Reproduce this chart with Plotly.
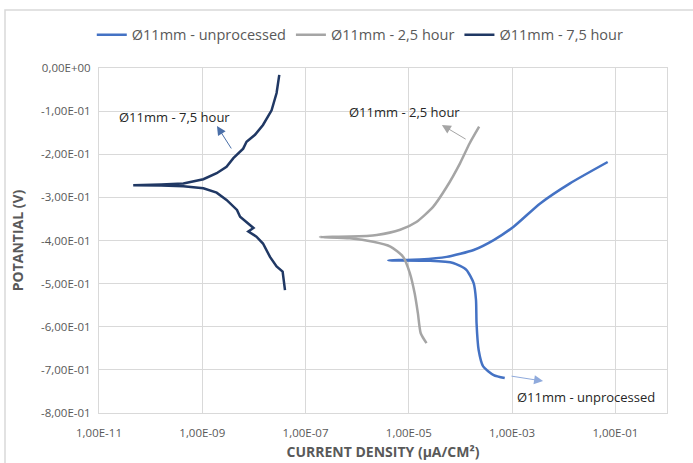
import plotly.graph_objects as go

# ---- data (current density in uA/cm2, potential in V) ----
h75_current = [3.1e-8, 2.75e-8, 2.2e-8, 1.5e-8, 1.05e-8, 7.2e-9, 6.2e-9, 4.0e-9, 2.95e-9, 1.9e-9,
               1.05e-9, 4.3e-10, 1.6e-10, 4.6e-11, 1.6e-10, 4.3e-10, 1.05e-9, 1.9e-9, 2.95e-9, 4.7e-9,
               5.4e-9, 7.8e-9, 9.8e-9, 7.8e-9, 1.12e-8, 1.5e-8, 2.05e-8, 2.75e-8, 3.6e-8, 4.0e-8]
h75_potential = [-0.016, -0.058, -0.098, -0.132, -0.155, -0.171, -0.187, -0.209, -0.229, -0.244,
                 -0.258, -0.268, -0.270, -0.272, -0.2725, -0.274, -0.279, -0.289, -0.306, -0.329,
                 -0.345, -0.361, -0.371, -0.379, -0.391, -0.407, -0.438, -0.460, -0.472, -0.515]

h25_current = [2.3e-4, 1.5e-4, 9.8e-5, 5.4e-5, 2.95e-5, 1.4e-5, 6.8e-6, 2.4e-6, 7.2e-7, 1.9e-7,
               7.2e-7, 2.05e-6, 4.4e-6, 7.8e-6, 1.05e-5, 1.3e-5, 1.5e-5, 1.7e-5, 2.2e-5]
h25_potential = [-0.136, -0.175, -0.221, -0.276, -0.322, -0.357, -0.375, -0.387, -0.391, -0.392,
                 -0.395, -0.403, -0.414, -0.438, -0.476, -0.523, -0.569, -0.615, -0.638]

unp_current = [7.1e-2, 1.3e-2, 3.5e-3, 1.07e-3, 4.4e-4, 1.8e-4, 5.4e-5, 1.65e-5, 4.0e-6,
               2.6e-5, 7.2e-5, 1.3e-4, 1.8e-4, 2.0e-4, 2.05e-4, 2.25e-4, 2.75e-4, 4.4e-4, 7.2e-4]
unp_potential = [-0.218, -0.268, -0.314, -0.368, -0.399, -0.422, -0.438, -0.444, -0.446,
                 -0.447, -0.452, -0.468, -0.499, -0.538, -0.592, -0.654, -0.692, -0.712, -0.719]

x_tick_vals = [1e-11, 1e-9, 1e-7, 1e-5, 1e-3, 1e-1]
x_tick_text = ["1,00E-11", "1,00E-09", "1,00E-07", "1,00E-05", "1,00E-03", "1,00E-01"]
y_tick_vals = [0, -0.1, -0.2, -0.3, -0.4, -0.5, -0.6, -0.7, -0.8]
y_tick_text = ["0,00E+00", "-1,00E-01", "-2,00E-01", "-3,00E-01", "-4,00E-01",
               "-5,00E-01", "-6,00E-01", "-7,00E-01", "-8,00E-01"]

FONT = "Open Sans"
C_UNP = "#4472C4"
C_25 = "#A5A5A5"
C_75 = "#203864"

fig = go.Figure()
fig.add_trace(go.Scatter(x=unp_current, y=unp_potential, mode="lines",
                         name="Ø11mm - unprocessed",
                         line=dict(color=C_UNP, width=2.5, shape="spline", smoothing=0.6)))
fig.add_trace(go.Scatter(x=h25_current, y=h25_potential, mode="lines",
                         name="Ø11mm - 2,5 hour",
                         line=dict(color=C_25, width=2.5, shape="spline", smoothing=0.6)))
fig.add_trace(go.Scatter(x=h75_current, y=h75_potential, mode="lines",
                         name="Ø11mm - 7,5 hour",
                         line=dict(color=C_75, width=2.5)))

# annotations: text labels
labels = [("Ø11mm - 7,5 hour", -9.53, -0.114),
          ("Ø11mm - 2,5 hour", -5.09, -0.102),
          ("Ø11mm - unprocessed", -1.57, -0.763)]
for t, lx, ly in labels:
    fig.add_annotation(x=lx, y=ly, xref="x", yref="y", text=t, showarrow=False,
                       font=dict(family=FONT, size=13, color="#262626"))

# arrows
arrows = [(-8.715, -0.1345, -8.42, -0.190, "#4A6FA8"),
          (-4.36, -0.132, -3.87, -0.167, "#A5A5A5"),
          (-2.40, -0.726, -3.04, -0.714, "#8FAADC")]
for hx, hy, tx, ty, col in arrows:
    fig.add_annotation(x=hx, y=hy, ax=tx, ay=ty, xref="x", yref="y", axref="x", ayref="y",
                       text="", showarrow=True, arrowhead=2, arrowsize=1.8, arrowwidth=1,
                       arrowcolor=col)

# outer chart border
fig.add_shape(type="rect", xref="paper", yref="paper", x0=-0.1655, y0=-0.2, x1=1.06, y1=1.168,
              line=dict(color="#D9D9D9", width=1.5), layer="above")

fig.update_layout(
    width=693, height=463,
    margin=dict(l=99, r=26, t=68, b=50, autoexpand=False),
    paper_bgcolor="white", plot_bgcolor="white",
    font=dict(family=FONT, color="#595959"),
    showlegend=True,
    legend=dict(orientation="h", x=0.46, xanchor="center", y=1.096, yanchor="middle",
                font=dict(family=FONT, size=14.5, color="#595959"),
                itemwidth=30, tracegroupgap=0),
    xaxis=dict(type="log", range=[-11, 0], tickvals=x_tick_vals, ticktext=x_tick_text,
               showgrid=True, gridcolor="#D9D9D9", gridwidth=1, automargin=False,
               showline=True, linecolor="#D9D9D9", mirror=True, zeroline=False,
               ticks="", ticklabelstandoff=9,
               tickfont=dict(family=FONT, size=11.5, color="#595959"),
               title=dict(text="<b>CURRENT DENSITY (µA/CM²)</b>",
                          font=dict(family=FONT, size=14, color="#595959"), standoff=8)),
    yaxis=dict(range=[-0.8, 0], tickvals=y_tick_vals, ticktext=y_tick_text,
               showgrid=True, gridcolor="#D9D9D9", gridwidth=1, automargin=False,
               showline=True, linecolor="#D9D9D9", mirror=True, zeroline=False,
               ticks="", ticklabelstandoff=5,
               tickfont=dict(family=FONT, size=11.5, color="#595959"),
               title=dict(text="<b>POTANTIAL (V)</b>",
                          font=dict(family=FONT, size=14, color="#595959"), standoff=14)),
)

fig.write_html("out.html", config={"displayModeBar": False},
               post_script="document.body.style.margin='0';")
